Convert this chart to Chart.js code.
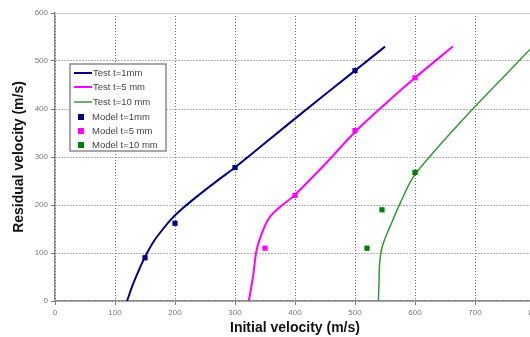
<!DOCTYPE html>
<html>
<head>
<meta charset="utf-8">
<script src="https://cdn.jsdelivr.net/npm/chart.js@4"></script>
<style>
  html, body { margin: 0; padding: 0; background: #fff; overflow: hidden; }
  #wrap { width: 530px; height: 337px; overflow: hidden; }
  #box { width: 560px; height: 337px; position: relative; }
</style>
</head>
<body>
<div id="wrap"><div id="box"><canvas id="chart"></canvas></div></div>
<script>
// measured curves (initial velocity, residual velocity)
const test1 = [[120,0],[130,35],[140,65],[150,92],[165,125],[180,150],[195,172],[210,190],[225,206],[250,231],[275,255],[300,278],[400,380],[500,480],[550,530]];
const test5 = [[323,0],[330,50],[336,106],[347,148],[358,175],[375,196],[397,218],[450,285],[500,352],[550,410],[600,465],[663,530]];
const test10 = [[539,0],[540,40],[541,78],[544,106],[550,130],[558,154],[575,203],[597,258],[633,313],[697,401],[750,470],[800,535]];

// model predictions
const model1 = [[150,90],[200,162],[300,278],[500,480]];
const model5 = [[350,110],[400,220],[500,355],[600,465]];
const model10 = [[520,110],[545,190],[600,268]];

const xTicks = [0, 100, 200, 300, 400, 500, 600, 700, 800];
const yTicks = [0, 100, 200, 300, 400, 500, 600];

const seriesNames = ['Test t=1mm', 'Test t=5 mm', 'Test t=10 mm', 'Model t=1mm', 'Model t=5 mm', 'Model t=10 mm'];
const seriesColors = ['#000080', '#ff00ff', '#339933', '#000080', '#ff00ff', '#008000'];

const toXY = arr => arr.map(p => ({ x: p[0], y: p[1] }));

function lineSet(i, pts, w) {
    return {
        type: 'line', label: seriesNames[i], data: toXY(pts),
        borderColor: seriesColors[i], borderWidth: w,
        pointRadius: 0, tension: 0.3, fill: false, order: 2
    };
}
function modelSet(i, pts) {
    return {
        type: 'scatter', label: seriesNames[i], data: toXY(pts),
        backgroundColor: seriesColors[i], borderColor: seriesColors[i],
        pointStyle: 'rect', pointRadius: 3.7, borderWidth: 0, order: 1
    };
}

// legend box drawn inside the plot, plus a light frame on top
const boxLegend = {
    id: 'boxLegend',
    afterDraw(chart) {
        const c = chart.ctx, a = chart.chartArea;
        c.save();
        c.strokeStyle = '#c8c8c8';
        c.lineWidth = 1;
        c.beginPath();
        c.moveTo(a.left, a.top + 0.5);
        c.lineTo(a.right, a.top + 0.5);
        c.stroke();

        c.fillStyle = '#fff';
        c.fillRect(70, 64, 96, 87);
        c.strokeStyle = '#8a8a8a';
        c.lineWidth = 1.5;
        c.strokeRect(70, 64, 96, 87);

        c.font = '9.5px "Liberation Sans", Arial, sans-serif';
        c.textBaseline = 'middle';
        const rows = [73, 87, 102, 117, 131, 145];
        chart.data.datasets.forEach((ds, i) => {
            const y = rows[i];
            if (ds.type === 'line') {
                c.strokeStyle = ds.borderColor;
                c.lineWidth = ds.borderWidth;
                c.beginPath();
                c.moveTo(74, y);
                c.lineTo(92, y);
                c.stroke();
            } else {
                c.fillStyle = ds.backgroundColor;
                c.fillRect(78, y - 3, 6, 6);
            }
            c.fillStyle = '#444';
            c.fillText(ds.label, i < 3 ? 93 : 92, y + 0.5);
        });
        c.restore();
    }
};

const ctx = document.getElementById('chart').getContext('2d');
new Chart(ctx, {
    data: {
        datasets: [
            lineSet(0, test1, 2),
            lineSet(1, test5, 2),
            lineSet(2, test10, 1.5),
            modelSet(3, model1),
            modelSet(4, model5),
            modelSet(5, model10)
        ]
    },
    options: {
        responsive: true,
        maintainAspectRatio: false,
        animation: false,
        layout: { padding: { top: 13, right: 25, left: 0, bottom: 0 } },
        plugins: { legend: { display: false }, tooltip: { enabled: false } },
        scales: {
            x: {
                type: 'linear', min: 0, max: 800,
                afterBuildTicks: s => { s.ticks = xTicks.map(v => ({ value: v })); },
                afterFit: s => { s.height = 36; },
                grid: { color: '#666', lineWidth: 1, tickLength: 4, tickColor: '#777' },
                border: { color: '#888', width: 1.5, dash: [1, 2] },
                ticks: { color: '#777', font: { size: 8, family: '"Liberation Sans", Arial' }, padding: 3, maxRotation: 0 },
                title: {
                    display: true, text: 'Initial velocity (m/s)', color: '#111',
                    font: { size: 14, weight: 'bold', family: '"Liberation Sans", Arial' },
                    padding: { top: 0, bottom: 0 }
                }
            },
            y: {
                type: 'linear', min: 0, max: 600,
                afterBuildTicks: s => { s.ticks = yTicks.map(v => ({ value: v })); },
                afterFit: s => { s.width = 55; },
                grid: { color: '#666', lineWidth: 1, tickLength: 4, tickColor: '#777' },
                border: { color: '#888', width: 1.5, dash: [1, 2] },
                ticks: { color: '#777', font: { size: 8, family: '"Liberation Sans", Arial' }, padding: 3 },
                title: {
                    display: true, text: 'Residual velocity (m/s)', color: '#111',
                    font: { size: 14, weight: 'bold', family: '"Liberation Sans", Arial' },
                    padding: { top: 11, bottom: 0 }
                }
            }
        }
    },
    plugins: [boxLegend]
});
</script>
</body>
</html>
